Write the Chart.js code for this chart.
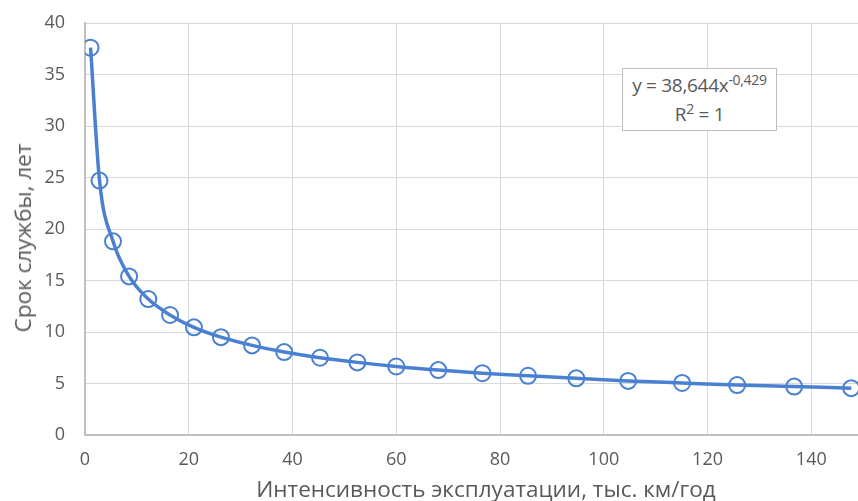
<!DOCTYPE html>
<html>
<head>
<meta charset="utf-8">
<script src="https://cdn.jsdelivr.net/npm/chart.js@4"></script>
<style>
    html, body { margin: 0; padding: 0; background: #fff; overflow: hidden; }
    #wrap { position: relative; width: 858px; height: 501px; overflow: hidden; }
    #eq {
        position: absolute; left: 622px; top: 68px; width: 155px; height: 63px;
        border: 1.5px solid #bfbfbf; background: #fff; box-sizing: border-box;
        font-family: 'Open Sans', sans-serif; font-size: 19px; color: #595959;
        text-align: center; line-height: 29px; padding-top: 2px; letter-spacing: -0.3px;
    }
    #eq sup { font-size: 14px; vertical-align: 7px; line-height: 0; }
    .axis-title {
        position: absolute; white-space: nowrap; font-family: 'Open Sans', sans-serif;
        font-size: 22.5px; color: #595959; line-height: 28px;
    }
    #xtitle { left: 486px; top: 475px; transform: translateX(-50%); }
    #ytitle { left: 23px; top: 238px; transform: translate(-50%, -50%) rotate(-90deg); }
</style>
</head>
<body>
<div id="wrap">
    <canvas id="chart" width="858" height="501"></canvas>
    <div id="eq">y = 38,644x<sup>-0,429</sup><br>R<sup>2</sup> = 1</div>
    <div id="xtitle" class="axis-title">Интенсивность эксплуатации, тыс. км/год</div>
    <div id="ytitle" class="axis-title">Срок службы, лет</div>
</div>
<script>
// ─── Data ────────────────────────────────────────────────────────
const intensity = [1.07, 2.8, 5.4, 8.5, 12.2, 16.4, 21, 26.2, 32.2, 38.4, 45.3, 52.5, 60, 68.1, 76.6, 85.4, 94.7, 104.7, 115.1, 125.7, 136.7, 147.7];
const lifetime  = [37.6, 24.7, 18.8, 15.4, 13.2, 11.65, 10.45, 9.5, 8.7, 8.05, 7.5, 7.05, 6.65, 6.3, 6.0, 5.75, 5.5, 5.25, 5.05, 4.85, 4.7, 4.55];
const xTicks = [0, 20, 40, 60, 80, 100, 120, 140];

const BLUE = "#4a80d2";
const points = intensity.map((x, i) => ({ x, y: lifetime[i] }));
const tickFont = { family: "'Open Sans', sans-serif", size: 18 };

new Chart(document.getElementById("chart"), {
    type: "scatter",
    data: {
        datasets: [
            {
                label: "Тренд",
                data: points,
                showLine: true,
                borderColor: BLUE,
                borderWidth: 3.5,
                pointRadius: 0,
                cubicInterpolationMode: "monotone",
            },
            {
                label: "Данные",
                data: points,
                borderColor: BLUE,
                backgroundColor: "rgba(0,0,0,0)",
                pointRadius: 8,
                pointBorderWidth: 2,
            }
        ]
    },
    options: {
        responsive: false,
        animation: false,
        layout: { autoPadding: false, padding: { top: 23, right: 0, left: 0, bottom: 0 } },
        plugins: { legend: { display: false }, tooltip: { enabled: false } },
        scales: {
            x: {
                type: "linear",
                min: 0,
                max: 149,
                afterBuildTicks: s => { s.ticks = xTicks.map(v => ({ value: v })); },
                afterFit: s => { s.height = 66; },
                ticks: { color: "#595959", font: tickFont, padding: 14, maxRotation: 0 },
                grid: { color: "#d9d9d9", drawTicks: false },
                border: { color: "#bfbfbf", width: 2 }
            },
            y: {
                min: 0,
                max: 40,
                afterFit: s => { s.width = 85; },
                ticks: { stepSize: 5, color: "#595959", font: tickFont, padding: 9 },
                grid: { color: "#d9d9d9", drawTicks: true, tickLength: 11, tickColor: "rgba(0,0,0,0)" },
                border: { color: "#bfbfbf", width: 2 }
            }
        }
    }
});
</script>
</body>
</html>
